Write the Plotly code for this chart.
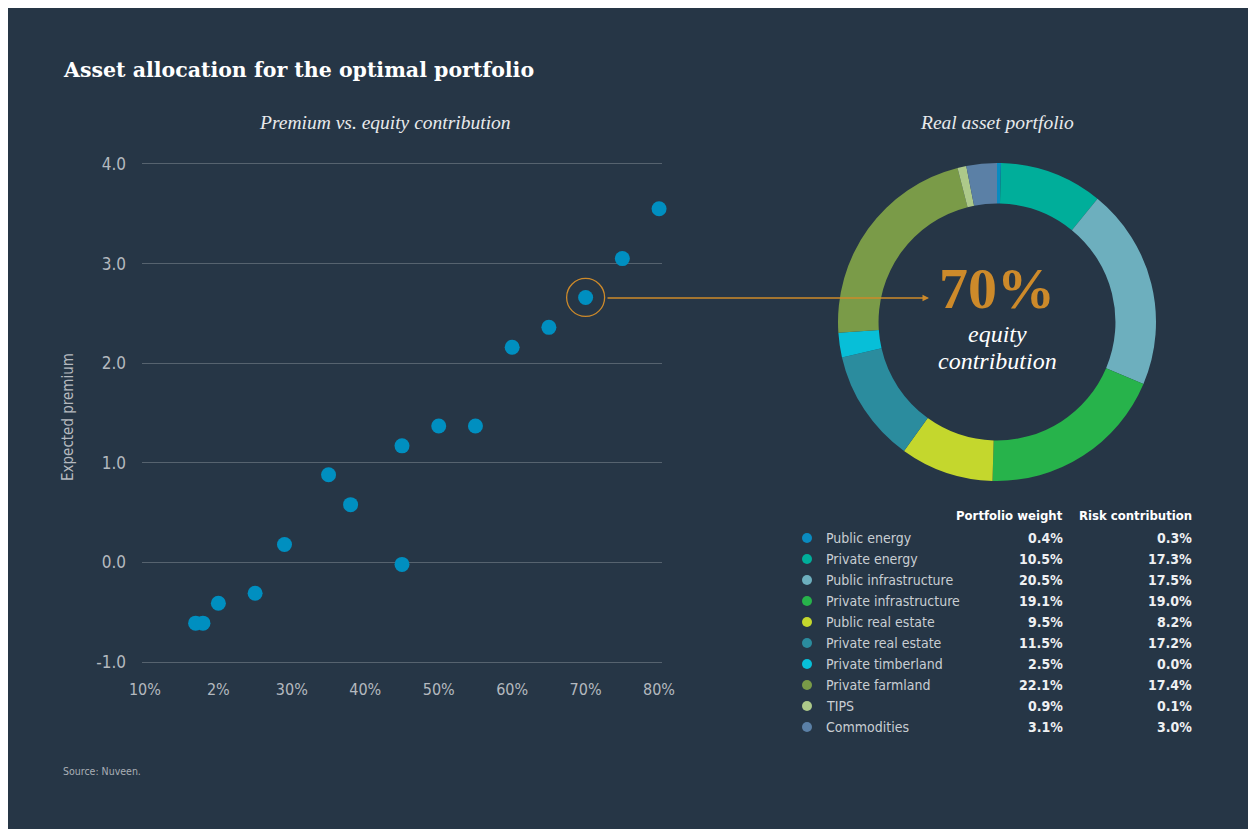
import plotly.graph_objects as go

# scatter: equity contribution (%) vs expected premium
equity_contrib = [16.9, 17.9, 20, 25, 29, 35, 38, 45, 45, 50, 55, 60, 65, 70, 75, 80]
expected_premium = [-0.61, -0.61, -0.41, -0.31, 0.18, 0.88, 0.58, 1.17, -0.02,
                    1.37, 1.37, 2.16, 2.36, 2.66, 3.05, 3.55]
highlight_x = [70]
highlight_y = [2.66]

x_tickvals = [10, 20, 30, 40, 50, 60, 70, 80]
x_ticktext = ['10%', '2%', '30%', '40%', '50%', '60%', '70%', '80%']
y_tickvals = [-1, 0, 1, 2, 3, 4]
y_ticktext = ['-1.0', '0.0', '1.0', '2.0', '3.0', '4.0']

# donut / table
assets = ['Public energy', 'Private energy', 'Public infrastructure', 'Private infrastructure',
          'Public real estate', 'Private real estate', 'Private timberland', 'Private farmland',
          'TIPS', 'Commodities']
weights = [0.4, 10.5, 20.5, 19.1, 9.5, 11.5, 2.5, 22.1, 0.9, 3.1]
risk_contrib = [0.3, 17.3, 17.5, 19.0, 8.2, 17.2, 0.0, 17.4, 0.1, 3.0]
asset_colors = ['#0a8bc0', '#00ae9a', '#6dafbe', '#27b34b', '#c4d72d',
                '#2b8c9e', '#07bfd8', '#7a9b48', '#adc98a', '#5b80a6']

BG = '#263646'
ORANGE = '#cd8a2a'
SANS = 'Liberation Sans Narrow, DejaVu Sans Condensed, Roboto, sans-serif'
SERIF = 'Liberation Serif, DejaVu Serif, serif'
SERIF_B = 'DejaVu Serif, Liberation Serif, serif'

# the page body has an 8px margin, so the figure sits inside it
W, H, OFF = 1240, 821, 8


def px(x):
    return (x - OFF) / W


def py(y):
    return 1 - (y - OFF) / H


fig = go.Figure()

fig.add_trace(go.Scatter(x=equity_contrib, y=expected_premium, mode='markers',
                         marker=dict(size=15, color='#008fc0'), cliponaxis=False,
                         showlegend=False, hoverinfo='x+y'))
fig.add_trace(go.Scatter(x=highlight_x, y=highlight_y, mode='markers',
                         marker=dict(size=38, color='rgba(0,0,0,0)',
                                     line=dict(color=ORANGE, width=1.3)),
                         cliponaxis=False, showlegend=False, hoverinfo='skip'))

fig.add_trace(go.Pie(labels=assets, values=weights, hole=0.745, sort=False,
                     direction='clockwise', rotation=0, textinfo='none',
                     marker=dict(colors=asset_colors, line=dict(width=0)),
                     domain=dict(x=[px(838), px(1156)], y=[py(481), py(163)]),
                     automargin=False, showlegend=False))

fig.update_layout(
    width=W, height=H,
    paper_bgcolor=BG, plot_bgcolor=BG,
    margin=dict(l=0, r=0, t=0, b=0, pad=0, autoexpand=False),
    xaxis=dict(domain=[px(142), px(662)], range=[9.6, 80.4], tickvals=x_tickvals,
               ticktext=x_ticktext, showgrid=False, zeroline=False, showline=False,
               ticks='', ticklabelstandoff=14, automargin=False,
               tickfont=dict(family=SANS, size=16, color='#b4b9bf')),
    yaxis=dict(domain=[py(664), py(162)], range=[-1.02, 4.02], tickvals=y_tickvals,
               ticktext=y_ticktext, showgrid=True, gridcolor='#56636f', gridwidth=1,
               zeroline=False, showline=False, ticks='', ticklabelstandoff=15,
               automargin=False,
               tickfont=dict(family=SANS, size=17, color='#b4b9bf')),
)


def note(text, x, y, anchor, size, color, family, angle=0):
    return dict(text=text, x=px(x), y=py(y), xref='paper', yref='paper',
                xanchor=anchor, yanchor='middle', showarrow=False, textangle=angle,
                font=dict(family=family, size=size, color=color))


ann = [
    note('<b>Asset allocation for the optimal portfolio</b>', 61, 70, 'left', 20.5, 'white', SERIF_B),
    note('<i>Premium vs. equity contribution</i>', 385, 122, 'center', 19.5, '#e8eaec', SERIF),
    note('<i>Real asset portfolio</i>', 997, 122, 'center', 19.5, '#e8eaec', SERIF),
    note('Expected premium', 68, 417, 'center', 15, '#b4b9bf', SANS, -90),
    note('<b>70%</b>', 997, 288, 'center', 58, ORANGE, SERIF),
    note('<i>equity</i>', 997, 334, 'center', 24, 'white', SERIF),
    note('<i>contribution</i>', 997, 361, 'center', 24, 'white', SERIF),
    note('<b>Portfolio weight</b>', 1065, 515, 'right', 13, 'white', SANS),
    note('<b>Risk contribution</b>', 1194, 515, 'right', 13, 'white', SANS),
    note('Source: Nuveen.', 61, 771, 'left', 10.5, '#a9afb5', SANS),
]
# arrow from highlighted point to the donut
ann.append(dict(text='', x=px(929), y=py(298), xref='paper', yref='paper',
                ax=-323, ay=0, showarrow=True, arrowhead=2, arrowsize=1, arrowwidth=1.3,
                arrowcolor=ORANGE))

shapes = []
for i, name in enumerate(assets):
    yy = 538 + 21 * i
    ann.append(note(name, 824, yy, 'left', 14, '#c9ced3', SANS))
    ann.append(note('<b>%.1f%%</b>' % weights[i], 1065, yy, 'right', 14, '#eef0f2', SANS))
    ann.append(note('<b>%.1f%%</b>' % risk_contrib[i], 1194, yy, 'right', 14, '#eef0f2', SANS))
    shapes.append(dict(type='circle', xref='paper', yref='paper',
                       x0=px(807 - 5), x1=px(807 + 5), y0=py(yy + 5), y1=py(yy - 5),
                       fillcolor=asset_colors[i], line=dict(width=0)))

fig.update_layout(annotations=ann, shapes=shapes)

fig.write_html('out.html')
